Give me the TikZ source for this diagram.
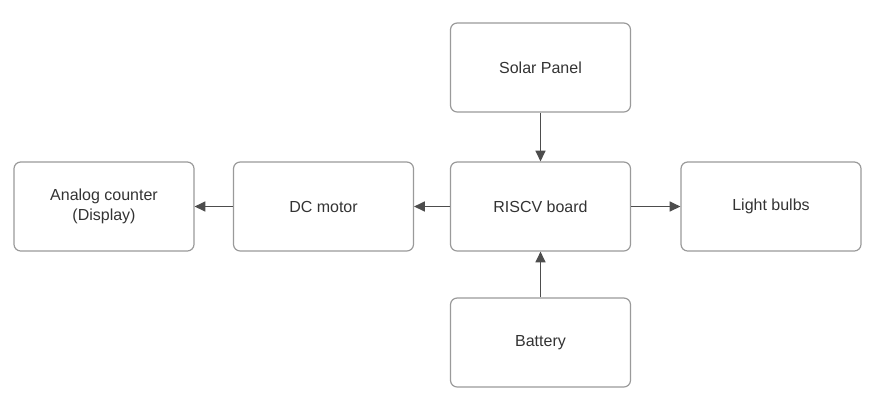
\documentclass[tikz,border=0pt]{standalone}
\usepackage{fontspec}
\setmainfont{Liberation Sans}
\usepackage{tikz}
\usetikzlibrary{
    arrows.meta,
    positioning
}
\definecolor{boxline}{HTML}{9A9A9A}
\definecolor{arrline}{HTML}{4D4D4D}
\definecolor{txt}{HTML}{333333}

\begin{document}
\begin{tikzpicture}[x=0.75pt,y=-0.75pt,
    block/.style={draw=boxline, line width=0.9pt, rounded corners=5pt, minimum width=135pt, minimum height=66.75pt, align=center, text=txt, font=\fontsize{12}{14.5}\selectfont},
    link/.style={draw=arrline, line width=0.9pt, -{Triangle[length=8pt,width=7.5pt]}}
]
\useasboundingbox (0,0) rectangle (878,412);

% Blocks
\node[block] (solar) at (540.5,67.5) {Solar Panel};
\node[block] (board) at (540.5,206.5) {RISCV board};
\node[block] (battery) at (540.5,342.5) {Battery};
\node[block] (motor) at (323.5,206.5) {DC motor};
\node[block] (counter) at (104,206.5) {Analog counter\\(Display)};
\node[block] (bulbs) at (771,206.5) {Light bulbs};

% Links
\draw[link] (solar) -- (board);
\draw[link] (battery) -- (board);
\draw[link] (board) -- (motor);
\draw[link] (motor) -- (counter);
\draw[link] (board) -- (bulbs);

\end{tikzpicture}
\end{document}
